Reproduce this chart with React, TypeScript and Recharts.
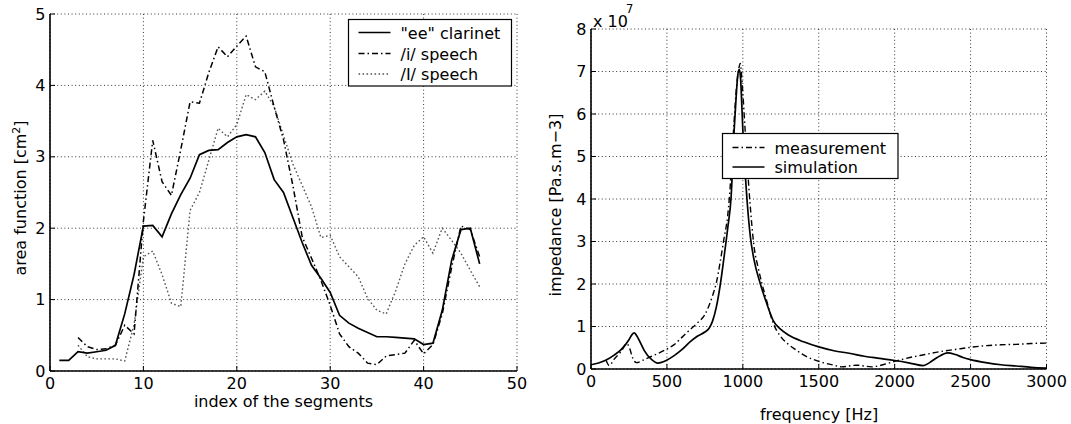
import { CartesianGrid, Line, LineChart, XAxis, YAxis } from 'recharts'

// left panel: area function along the bore
const segmentIndex = [
  1, 2, 3, 4, 5, 6, 7, 8, 9, 10, 11, 12, 13, 14, 15, 16, 17, 18, 19, 20, 21, 22, 23,
  24, 25, 26, 27, 28, 29, 30, 31, 32, 33, 34, 35, 36, 37, 38, 39, 40, 41, 42, 43, 44, 45, 46,
]
const clarinetArea = [
  0.15, 0.15, 0.27, 0.25, 0.27, 0.29, 0.36, 0.8, 1.35, 2.03, 2.04, 1.88, 2.2, 2.47, 2.7, 3.03,
  3.09, 3.1, 3.2, 3.28, 3.31, 3.28, 3.06, 2.68, 2.5, 2.15, 1.8, 1.48, 1.3, 1.1, 0.78, 0.67, 0.6,
  0.54, 0.48, 0.48, 0.47, 0.46, 0.45, 0.37, 0.39, 0.85, 1.55, 1.98, 2.0, 1.5,
]
const speechIArea = [
  null, null, 0.47, 0.34, 0.3, 0.31, 0.36, 0.64, 0.52, 2.1, 3.23, 2.65, 2.46, 3.1, 3.77, 3.75,
  4.18, 4.54, 4.4, 4.55, 4.69, 4.26, 4.19, 3.7, 3.24, 2.6, 1.88, 1.58, 1.27, 0.92, 0.52, 0.34,
  0.25, 0.11, 0.09, 0.21, 0.23, 0.25, 0.43, 0.24, 0.37, 0.8, 1.45, 2.03, 1.98, 1.6,
]
const speechIIArea = [
  null, null, 0.36, 0.2, 0.17, 0.17, 0.17, 0.14, 0.65, 1.6, 1.68, 1.35, 0.95, 0.9, 2.25, 2.5,
  2.95, 3.4, 3.28, 3.45, 3.87, 3.8, 3.92, 3.7, 3.3, 2.9, 2.6, 2.3, 1.87, 1.9, 1.6, 1.46, 1.32,
  1.02, 0.85, 0.8, 1.12, 1.5, 1.76, 1.88, 1.65, 2.0, 1.83, 1.65, 1.41, 1.18,
]
const segmentTicks = [0, 10, 20, 30, 40, 50]
const areaTicks = [0, 1, 2, 3, 4, 5]

// right panel: input impedance, in units of 1e7 Pa.s.m-3
const measurementFreq = [
  100, 120, 150, 200, 235, 255, 275, 300, 350, 400, 450, 500, 550, 600, 650, 700, 750, 800, 825,
  850, 875, 900, 912, 939, 960, 975, 983, 992, 1000, 1015, 1044, 1075, 1100, 1125, 1150, 1200,
  1250, 1300, 1350, 1400, 1500, 1600, 1650, 1750, 1850, 1900, 2000, 2100, 2200, 2300, 2400, 2500,
  2600, 2700, 2800, 2900, 3000,
]
const measurementImpedance = [
  0.2, 0.08, 0.22, 0.42, 0.6, 0.48, 0.25, 0.15, 0.22, 0.3, 0.38, 0.47, 0.58, 0.75, 0.92, 1.08,
  1.28, 1.72, 2.02, 2.5, 3.05, 3.6, 4.06, 5.63, 6.7, 7.1, 7.19, 6.9, 6.5, 5.63, 4.06, 2.85, 2.4,
  2.02, 1.7, 1.08, 0.76, 0.58, 0.45, 0.33, 0.18, 0.09, 0.05, 0.09, 0.05, 0.08, 0.18, 0.27, 0.34,
  0.41, 0.46, 0.51, 0.55, 0.57, 0.58, 0.6, 0.61,
]
const simulationFreq = [
  0, 50, 100, 150, 200, 250, 270, 285, 300, 325, 350, 400, 440, 500, 550, 600, 650, 700, 750, 780,
  800, 825, 850, 875, 900, 923, 943, 956, 965, 976, 985, 991, 1000, 1026, 1050, 1075, 1114, 1150,
  1200, 1250, 1300, 1400, 1500, 1600, 1700, 1800, 1900, 2000, 2100, 2190, 2230, 2280, 2350, 2400,
  2450, 2500, 2600, 2700, 2800, 2900, 3000,
]
const simulationImpedance = [
  0.1, 0.14, 0.21, 0.32, 0.46, 0.69, 0.81, 0.85, 0.79, 0.62, 0.44, 0.22, 0.14, 0.21, 0.32, 0.46,
  0.63, 0.77, 0.87, 0.97, 1.12, 1.45, 1.95, 2.6, 3.3, 4.06, 5.63, 6.4, 6.85, 7.05, 6.85, 6.4, 5.63,
  4.06, 3.1, 2.55, 2.02, 1.62, 1.14, 0.93, 0.8, 0.64, 0.52, 0.43, 0.37, 0.3, 0.25, 0.2, 0.14,
  0.08, 0.15, 0.27, 0.38, 0.34, 0.27, 0.22, 0.15, 0.1, 0.07, 0.04, 0.02,
]
const freqTicks = [0, 500, 1000, 1500, 2000, 2500, 3000]
const impedanceTicks = [0, 1, 2, 3, 4, 5, 6, 7, 8]

const areaRows = segmentIndex.map((seg, i) => ({
  seg,
  clarinet: clarinetArea[i],
  speechI: speechIArea[i],
  speechII: speechIIArea[i],
}))
const measurementRows = measurementFreq.map((f, i) => ({ f, z: measurementImpedance[i] }))
const simulationRows = simulationFreq.map((f, i) => ({ f, z: simulationImpedance[i] }))

const FONT = '"DejaVu Sans", sans-serif'
const axisLine = { stroke: '#000', strokeWidth: 1.6 }
const tickLine = { stroke: '#000', strokeWidth: 1 }
const tickText = { fontSize: 16, fill: '#000' }
const gridDash = '1 2.6'
const dashDot = '6 3 1.5 3'
const dotted = '1.6 2.4'

function LegendRow({ y, dash, color, label }: { y: number; dash?: string; color: string; label: string }) {
  return (
    <g>
      <line x1={10} x2={42} y1={y} y2={y} stroke={color} strokeWidth={1.5} strokeDasharray={dash} />
      <text x={52} y={y + 6} fontSize={16} fill="#000">
        {label}
      </text>
    </g>
  )
}

function AreaPanel() {
  return (
    <LineChart width={540} height={424} data={areaRows} margin={{ top: 14, right: 23, bottom: 23, left: 0 }}>
      <CartesianGrid stroke="#000" strokeWidth={0.8} strokeDasharray={gridDash} />
      <XAxis
        dataKey="seg"
        type="number"
        domain={[0, 50]}
        ticks={segmentTicks}
        interval={0}
        allowDataOverflow
        height={30}
        tickSize={-5}
        tickMargin={12}
        axisLine={axisLine}
        tickLine={tickLine}
        tick={tickText}
      />
      <XAxis
        xAxisId="top"
        orientation="top"
        dataKey="seg"
        type="number"
        domain={[0, 50]}
        ticks={segmentTicks}
        interval={0}
        allowDataOverflow
        height={0}
        tickSize={-5}
        axisLine={axisLine}
        tickLine={tickLine}
        tick={false}
      />
      <YAxis
        type="number"
        domain={[0, 5]}
        ticks={areaTicks}
        interval={0}
        allowDataOverflow
        width={50}
        tickSize={-5}
        tickMargin={9.5}
        axisLine={axisLine}
        tickLine={tickLine}
        tick={tickText}
      />
      <YAxis
        yAxisId="right"
        orientation="right"
        type="number"
        domain={[0, 5]}
        ticks={areaTicks}
        interval={0}
        allowDataOverflow
        width={0}
        tickSize={-5}
        axisLine={axisLine}
        tickLine={tickLine}
        tick={false}
      />
      <Line dataKey="speechII" stroke="#555" strokeWidth={1.4} strokeDasharray={dotted} dot={false} isAnimationActive={false} />
      <Line dataKey="speechI" stroke="#000" strokeWidth={1.5} strokeDasharray={dashDot} dot={false} isAnimationActive={false} />
      <Line dataKey="clarinet" stroke="#000" strokeWidth={1.7} dot={false} isAnimationActive={false} />
    </LineChart>
  )
}

function ImpedancePanel() {
  return (
    <LineChart width={541} height={424} margin={{ top: 29, right: 24.5, bottom: 25, left: 0 }}>
      <CartesianGrid stroke="#000" strokeWidth={0.8} strokeDasharray={gridDash} />
      <XAxis
        dataKey="f"
        type="number"
        domain={[0, 3000]}
        ticks={freqTicks}
        interval={0}
        allowDataOverflow
        height={30}
        tickSize={-5}
        tickMargin={12}
        axisLine={axisLine}
        tickLine={tickLine}
        tick={tickText}
      />
      <XAxis
        xAxisId="top"
        orientation="top"
        dataKey="f"
        type="number"
        domain={[0, 3000]}
        ticks={freqTicks}
        interval={0}
        allowDataOverflow
        height={0}
        tickSize={-5}
        axisLine={axisLine}
        tickLine={tickLine}
        tick={false}
      />
      <YAxis
        type="number"
        domain={[0, 8]}
        ticks={impedanceTicks}
        interval={0}
        allowDataOverflow
        width={61}
        tickSize={-5}
        tickMargin={9.5}
        axisLine={axisLine}
        tickLine={tickLine}
        tick={tickText}
      />
      <YAxis
        yAxisId="right"
        orientation="right"
        type="number"
        domain={[0, 8]}
        ticks={impedanceTicks}
        interval={0}
        allowDataOverflow
        width={0}
        tickSize={-5}
        axisLine={axisLine}
        tickLine={tickLine}
        tick={false}
      />
      <Line data={measurementRows} dataKey="z" type="monotone" stroke="#000" strokeWidth={1.4} strokeDasharray={dashDot} dot={false} isAnimationActive={false} />
      <Line data={simulationRows} dataKey="z" type="monotone" stroke="#000" strokeWidth={1.7} dot={false} isAnimationActive={false} />
    </LineChart>
  )
}

export default function App() {
  return (
    <div style={{ position: 'absolute', left: 0, top: 0, width: 1071, height: 424, overflow: 'hidden', background: '#fff', fontFamily: FONT }}>
      <div style={{ position: 'absolute', left: 0, top: 0 }}>
        <AreaPanel />
      </div>
      <div style={{ position: 'absolute', left: 530, top: 0 }}>
        <ImpedancePanel />
      </div>
      <svg width={1071} height={424} style={{ position: 'absolute', left: 0, top: 0, pointerEvents: 'none', fontFamily: FONT }}>
        {/* axis titles */}
        <text x={283.5} y={407} textAnchor="middle" fontSize={16} fill="#000">
          index of the segments
        </text>
        <text x={819} y={420} textAnchor="middle" fontSize={16} fill="#000">
          frequency [Hz]
        </text>
        <text transform="translate(26,198) rotate(-90)" textAnchor="middle" fontSize={16} fill="#000">
          area function [cm<tspan dy={-6} fontSize={11}>2</tspan>
          <tspan dy={6}>]</tspan>
        </text>
        <text transform="translate(561,205) rotate(-90)" textAnchor="middle" fontSize={16} fill="#000">
          impedance [Pa.s.m−3]
        </text>
        <text x={593} y={27} fontSize={16} fill="#000">
          x 10
        </text>
        <text x={626} y={13} fontSize={11.5} fill="#000">
          7
        </text>

        {/* legend, left panel */}
        <g transform="translate(348.5,19.5)">
          <rect width={163} height={66.5} fill="#fff" stroke="#000" strokeWidth={1.2} />
          <LegendRow y={13} color="#000" label={'"ee" clarinet'} />
          <LegendRow y={34} color="#000" dash={dashDot} label="/i/ speech" />
          <LegendRow y={54.5} color="#555" dash={dotted} label="/I/ speech" />
        </g>

        {/* legend, right panel */}
        <g transform="translate(722.5,133.5)">
          <rect width={175.5} height={45} fill="#fff" stroke="#000" strokeWidth={1.2} />
          <LegendRow y={14} color="#000" dash={dashDot} label="measurement" />
          <LegendRow y={33.5} color="#000" label="simulation" />
        </g>
      </svg>
    </div>
  )
}
